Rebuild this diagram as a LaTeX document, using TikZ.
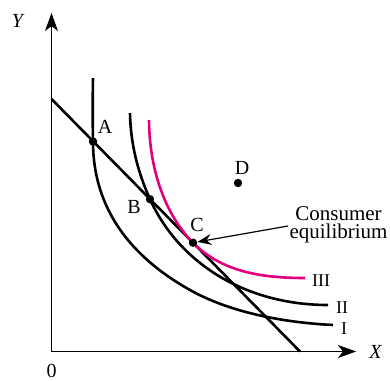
\documentclass[tikz,border=0pt]{standalone}
\usepackage{fontspec}
\setmainfont{Liberation Serif}
\usetikzlibrary{arrows.meta}
\definecolor{icpink}{RGB}{228,0,124}
\begin{document}
\begin{tikzpicture}[x=0.5pt,y=-0.5pt,
  curve/.style={line width=1.3pt},
  axisline/.style={line width=0.85pt,-{Stealth[length=9pt,width=6.5pt,inset=2.5pt]}},
  thinarrow/.style={line width=0.6pt,-{Stealth[length=7pt,width=5.5pt,inset=2.5pt]}},
  dotst/.style={circle,fill=black,inner sep=0pt,minimum size=4.2pt},
  lbl/.style={font=\fontsize{10}{12}\selectfont,anchor=base,inner sep=0pt},
  numlbl/.style={font=\fontsize{9}{11}\selectfont,anchor=base,inner sep=0pt},
  conslbl/.style={font=\fontsize{10.5}{9.2}\selectfont,anchor=base,inner sep=0pt,align=center}]
\useasboundingbox (0,0) rectangle (390,380);
% axes
\coordinate (O) at (51.5,351.5);
\coordinate (Ytip) at (51.5,13);
\coordinate (Xtip) at (356,351.5);
\draw[axisline] (O) -- (Ytip);
\draw[axisline] (O) -- (Xtip);
\node[lbl,font=\fontsize{10}{12}\selectfont\itshape] (ylab) at (17.5,27.5) {Y};
\node[lbl,font=\fontsize{10}{12}\selectfont\itshape] (xlab) at (375.5,358.3) {X};
\node[lbl] (zero) at (51.7,377.3) {0};
% budget line
\coordinate (b1) at (51.5,99);
\coordinate (b2) at (300,351.5);
\draw[curve] (b1) -- (b2);
% points on the budget line
\coordinate (Apt) at (93,141.5);
\coordinate (Bpt) at (150,199.2);
\coordinate (Cpt) at (193,242.7);
% indifference curve I
\draw[curve] (93,78) .. controls (92.6,100) and (92.6,120) .. (Apt)
  .. controls (93,216.5) and (140,262) .. (190,290)
  .. controls (230,312.4) and (283,322.5) .. (333,325);
% indifference curve II
\draw[curve] (130,113) .. controls (130.5,143) and (137.6,171.9) .. (Bpt)
  .. controls (180,265.2) and (248,305) .. (328,305);
% indifference curve III
\draw[curve,icpink] (149,120) .. controls (149.5,175) and (168,217.4) .. (Cpt)
  .. controls (223,273.1) and (265,278) .. (305,278);
% dots
\node[dotst] (A) at (Apt) {};
\node[dotst] (B) at (Bpt) {};
\node[dotst] (C) at (Cpt) {};
\node[dotst] (D) at (238,183) {};
% labels
\node[lbl] (Alab) at (105,133) {A};
\node[lbl] (Blab) at (134,213) {B};
\node[lbl] (Clab) at (197,231.5) {C};
\node[lbl] (Dlab) at (242,174) {D};
\node[numlbl] (l3) at (321,286.7) {III};
\node[numlbl] (l2) at (342,313.3) {II};
\node[numlbl] (l1) at (344,334) {I};
\node[conslbl] (cons) at (338.5,238.5) {Consumer\\equilibrium};
\coordinate (arrS) at (288,226);
\draw[thinarrow] (arrS) -- (C);
\end{tikzpicture}
\end{document}
